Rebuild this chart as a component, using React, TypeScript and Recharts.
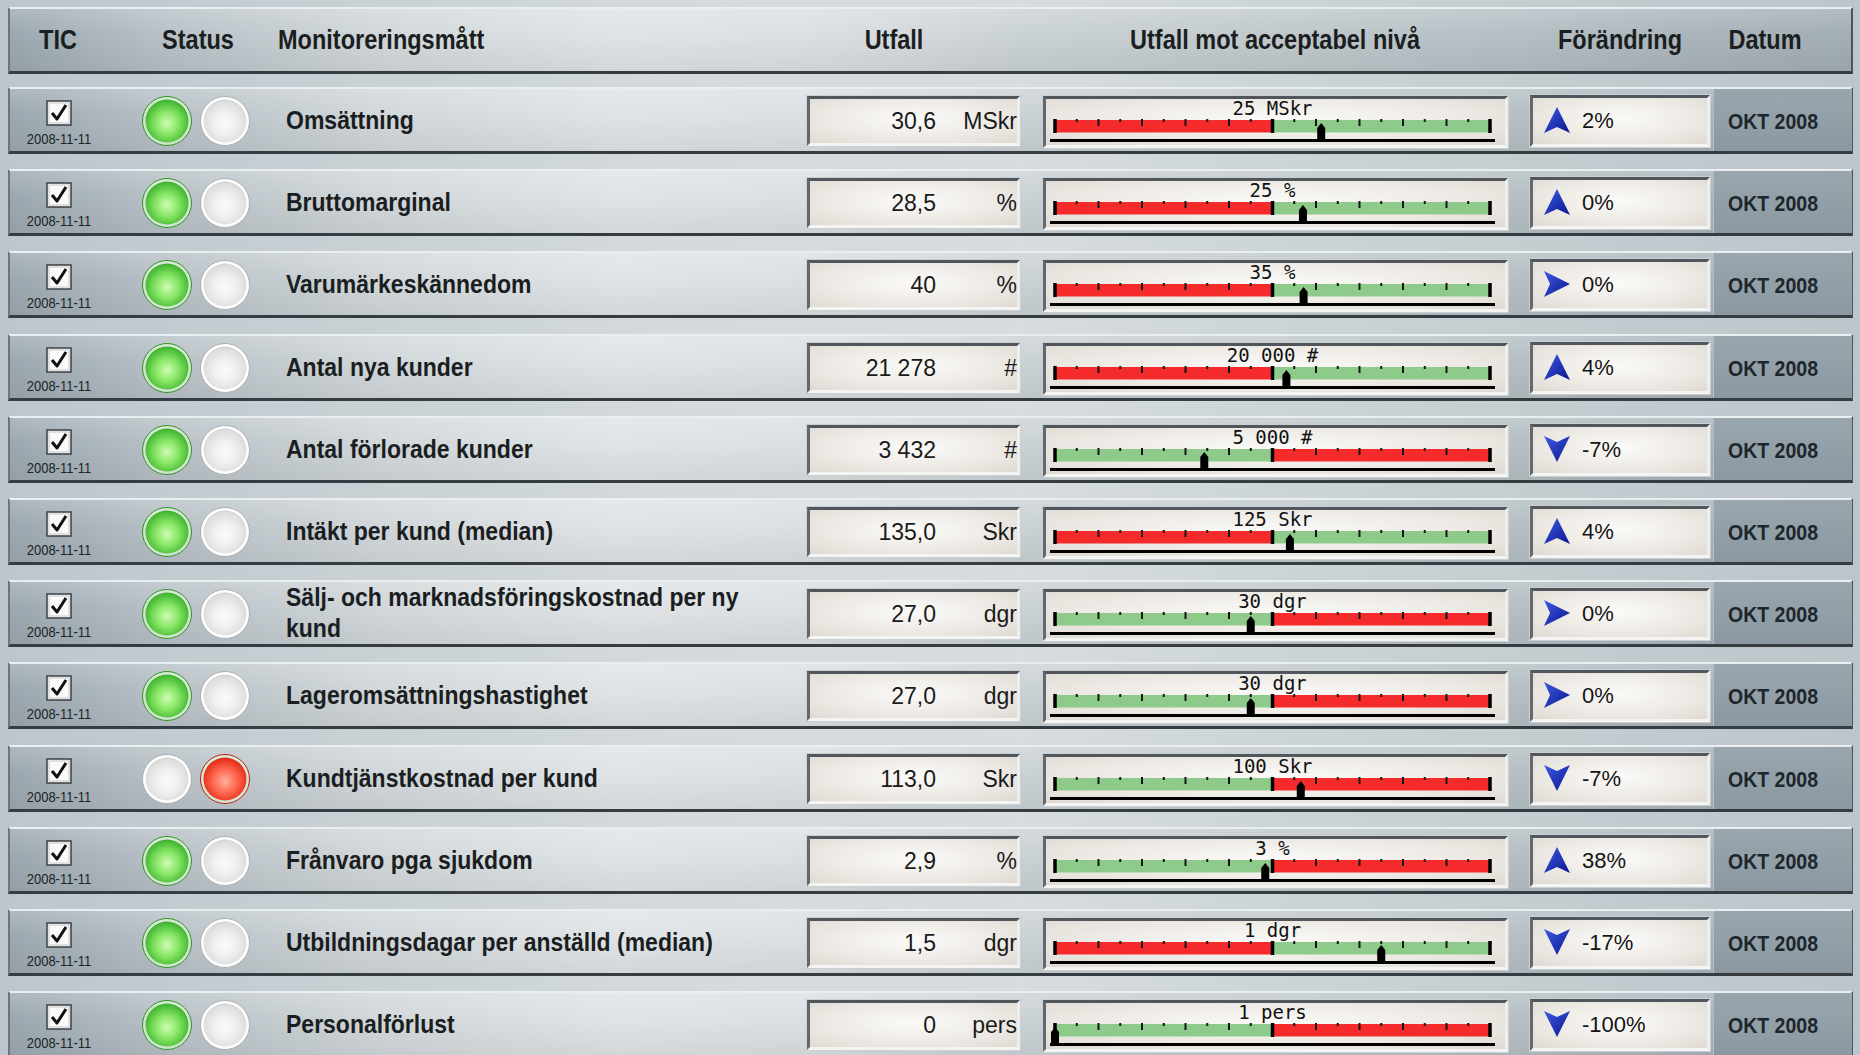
import React from 'react';
import { BarChart, Bar, XAxis, YAxis, ReferenceLine, ReferenceDot } from 'recharts';

const headers = ['TIC', 'Status', 'Monitoreringsmått', 'Utfall', 'Utfall mot acceptabel nivå', 'Förändring', 'Datum'];

const metrics = [
  'Omsättning',
  'Bruttomarginal',
  'Varumärkeskännedom',
  'Antal nya kunder',
  'Antal förlorade kunder',
  'Intäkt per kund (median)',
  'Sälj- och marknadsföringskostnad per ny kund',
  'Lageromsättningshastighet',
  'Kundtjänstkostnad per kund',
  'Frånvaro pga sjukdom',
  'Utbildningsdagar per anställd (median)',
  'Personalförlust',
];
const outcomes = [30.6, 28.5, 40, 21278, 3432, 135, 27, 27, 113, 2.9, 1.5, 0];
const outcomeText = ['30,6', '28,5', '40', '21 278', '3 432', '135,0', '27,0', '27,0', '113,0', '2,9', '1,5', '0'];
const units = ['MSkr', '%', '%', '#', '#', 'Skr', 'dgr', 'dgr', 'Skr', '%', 'dgr', 'pers'];
const thresholds = [25, 25, 35, 20000, 5000, 125, 30, 30, 100, 3, 1, 1];
const thresholdLabels = ['25 MSkr', '25 %', '35 %', '20 000 #', '5 000 #', '125 Skr', '30 dgr', '30 dgr', '100 Skr', '3 %', '1 dgr', '1 pers'];
// true: below the threshold is red, false: below is green
const higherIsBetter = [true, true, true, true, false, true, false, false, false, false, true, false];
const changes = ['2%', '0%', '0%', '4%', '-7%', '4%', '0%', '0%', '-7%', '38%', '-17%', '-100%'];
const trends = ['up', 'up', 'right', 'up', 'down', 'up', 'right', 'right', 'down', 'up', 'down', 'down'];
const statusOk = [true, true, true, true, true, true, true, true, false, true, true, true];
const ticDates = Array(12).fill('2008-11-11');
const periods = Array(12).fill('OKT 2008');

const ROW_Y0 = 87;
const ROW_PITCH = 82.2;
const BAR_TOP = 23;
const BAR_H = 14;
const TICK_COUNT = 20;

const inset: React.CSSProperties = {
  position: 'absolute',
  boxSizing: 'border-box',
  borderTop: '3px solid #50565b',
  borderLeft: '3px solid #62686d',
  borderBottom: '3px solid #f4f4f2',
  borderRight: '3px solid #eeeeec',
  background: 'radial-gradient(ellipse at 50% 45%, #fbfaf8 0%, #eeebe6 55%, #dfdad3 100%)',
  boxShadow: '0 0 0 1px #c9cfd2',
};

function Light({ kind, id }: { kind: 'green' | 'off' | 'red'; id: string }) {
  const c = kind === 'green'
    ? ['#d0fbb4', '#86e664', '#46b934', '#2f9524']
    : kind === 'red'
    ? ['#ffb09a', '#ff6a52', '#e8321e', '#b82010']
    : ['#fbfbfb', '#efefef', '#dcdcdc', '#b9b9b9'];
  return (
    <svg width={52} height={52} style={{ display: 'block' }}>
      <defs>
        <radialGradient id={id} cx="50%" cy="55%" r="60%">
          <stop offset="0%" stopColor={c[0]} />
          <stop offset="45%" stopColor={c[1]} />
          <stop offset="85%" stopColor={c[2]} />
          <stop offset="100%" stopColor={c[3]} />
        </radialGradient>
      </defs>
      <circle cx={26} cy={26} r={24.5} fill={kind === 'off' ? '#ffffff' : 'rgba(230,255,220,0.6)'} stroke={kind === 'off' ? '#a9afb3' : c[3]} strokeWidth={1} />
      <circle cx={26} cy={26} r={21.5} fill={`url(#${id})`} />
    </svg>
  );
}

function Arrow({ dir, id }: { dir: string; id: string }) {
  const pts = dir === 'up' ? '14,1 27,27 14,21 1,27' : dir === 'down' ? '1,1 14,7 27,1 14,27' : '1,1 27,14 1,27 7,14';
  return (
    <svg width={28} height={28} style={{ display: 'block' }}>
      <defs>
        <linearGradient id={id} x1="0" y1="0" x2="1" y2="1">
          <stop offset="0%" stopColor="#3d5be6" />
          <stop offset="100%" stopColor="#0a168c" />
        </linearGradient>
      </defs>
      <polygon points={pts} fill={`url(#${id})`} />
    </svg>
  );
}

function CheckBox() {
  return (
    <svg width={26} height={26} style={{ display: 'block' }}>
      <rect x={1} y={1} width={24} height={24} fill="#fafafa" stroke="#3a3f44" strokeWidth={1.5} />
      <rect x={3} y={3} width={20} height={20} fill="none" stroke="#c8c8c8" strokeWidth={1} />
      <path d="M6 13 L11 19 L20 5" fill="none" stroke="#111" strokeWidth={3} strokeLinejoin="round" />
    </svg>
  );
}

const Marker = (props: any) => {
  const { cx, cy } = props;
  const pts = `${cx},${cy - 3} ${cx + 4},${cy + 2} ${cx + 4},${cy + 16} ${cx - 4},${cy + 16} ${cx - 4},${cy + 2}`;
  return <polygon points={pts} fill="#000" />;
};

const tickShape = (k: number) => (p: any) => {
  const x = p.x1;
  const y = Math.min(p.y1, p.y2);
  if (x == null || isNaN(x)) return <g />;
  if (k % 10 === 0) return <rect x={x - 1.75} y={y} width={3.5} height={BAR_H} fill="#000" />;
  const len = k % 2 === 0 ? 7 : 3;
  return <line x1={x} x2={x} y1={y} y2={y + len} stroke="#151515" strokeWidth={2} />;
};

function Gauge({ i }: { i: number }) {
  const thr = thresholds[i];
  const ticks = Array.from({ length: TICK_COUNT + 1 }, (_, k) => k);
  const data = [{ name: metrics[i], low: thr, high: thr }];
  const good = '#8ecb8b';
  const bad = '#f52a2a';
  return (
    <BarChart
      width={465}
      height={50}
      data={data}
      layout="vertical"
      margin={{ top: BAR_TOP, right: 18, bottom: 50 - BAR_TOP - BAR_H, left: 12 }}
      barCategoryGap={0}
    >
      <XAxis type="number" domain={[0, 2 * thr]} hide />
      <YAxis type="category" dataKey="name" hide width={0} />
      <Bar dataKey="low" stackId="g" fill={higherIsBetter[i] ? bad : good} barSize={BAR_H} isAnimationActive={false} />
      <Bar dataKey="high" stackId="g" fill={higherIsBetter[i] ? good : bad} barSize={BAR_H} isAnimationActive={false} />
      {ticks.map((k) => (
        <ReferenceLine key={k} x={(k * thr) / 10} ifOverflow="visible" shape={tickShape(k)} />
      ))}
      <ReferenceLine
        x={thr}
        stroke="none"
        label={{ value: thresholdLabels[i], position: 'top', offset: 4, fill: '#111', fontSize: 19, fontFamily: 'DejaVu Sans Mono' }}
      />
      <ReferenceDot x={outcomes[i]} y={metrics[i]} r={4} shape={Marker} ifOverflow="visible" />
    </BarChart>
  );
}

const rowBg = 'linear-gradient(180deg, rgba(255,255,255,0.18) 0%, rgba(255,255,255,0) 40%, rgba(0,0,0,0.06) 100%), ' +
  'linear-gradient(90deg, #9ca8b0 0%, #b7c0c6 8%, #d1d7da 20%, #e0e4e6 33%, #dce0e3 43%, #cbd2d5 55%, #c0c8cc 70%, #b5bfc4 82%, #aab4bb 92%, #a3aeb5 100%)';

const nameFont: React.CSSProperties = {
  fontFamily: '"Liberation Sans", Arial, sans-serif',
  fontWeight: 700,
  color: '#1b1e21',
};

function Row({ i }: { i: number }) {
  const top = Math.round(ROW_Y0 + i * ROW_PITCH);
  const c = top + 34;
  return (
    <>
      <div style={{
        position: 'absolute', left: 8, top, width: 1845, height: 67, boxSizing: 'border-box',
        borderTop: '2px solid #e9eef0', borderLeft: '2px solid #6b757c', borderRight: '2px solid #4b555b', borderBottom: '3px solid #353d43',
        background: rowBg,
      }} />
      <div style={{
        position: 'absolute', left: 1713, top: top + 2, width: 138, height: 62,
        background: 'linear-gradient(180deg, #9aa6ae 0%, #8b98a1 100%)', borderLeft: '1px solid #b3bdc3',
      }} />
      <div style={{ position: 'absolute', left: 46, top: top + 13 }}><CheckBox /></div>
      <div style={{ position: 'absolute', left: 19, width: 80, top: top + 45, textAlign: 'center', fontFamily: '"Liberation Sans", Arial', fontSize: 13, color: '#202428', whiteSpace: 'nowrap' }}>
        <span style={{ display: 'inline-block', transform: 'scaleY(1.1)' }}>{ticDates[i]}</span>
      </div>
      <div style={{ position: 'absolute', left: 141, top: c - 26 }}><Light kind={statusOk[i] ? 'green' : 'off'} id={`l1-${i}`} /></div>
      <div style={{ position: 'absolute', left: 199, top: c - 26 }}><Light kind={statusOk[i] ? 'off' : 'red'} id={`l2-${i}`} /></div>
      <div style={{ ...nameFont, position: 'absolute', left: 286, top: top + 2, height: 62, width: 500, display: 'flex', alignItems: 'center', fontSize: 23, lineHeight: '27px' }}>
        <span style={{ display: 'inline-block', transform: 'scaleY(1.12)' }}>{metrics[i]}</span>
      </div>
      <div style={{ ...inset, left: 807, top: top + 9, width: 213, height: 50 }} />
      <div style={{ position: 'absolute', left: 807, width: 129, top: c - 14, textAlign: 'right', fontFamily: '"Liberation Sans", Arial', fontSize: 23, color: '#1a1a1a', lineHeight: '28px' }}>{outcomeText[i]}</div>
      <div style={{ position: 'absolute', left: 940, width: 77, top: c - 14, textAlign: 'right', fontFamily: '"Liberation Sans", Arial', fontSize: 23, color: '#1a1a1a', lineHeight: '28px' }}>{units[i]}</div>
      <div style={{ ...inset, left: 1043, top: top + 9, width: 465, height: 52 }} />
      <div style={{ position: 'absolute', left: 1050, top: top + 52, width: 445, height: 3, background: '#000' }} />
      <div style={{ position: 'absolute', left: 1043, top: top + 9 }}><Gauge i={i} /></div>
      <div style={{ ...inset, left: 1530, top: top + 8, width: 180, height: 52 }} />
      <div style={{ position: 'absolute', left: 1543, top: c - 15 }}><Arrow dir={trends[i]} id={`a-${i}`} /></div>
      <div style={{ position: 'absolute', left: 1582, top: c - 14, fontFamily: '"Liberation Sans", Arial', fontSize: 22, color: '#141414', lineHeight: '28px' }}>{changes[i]}</div>
      <div style={{ ...nameFont, position: 'absolute', left: 1713, width: 120, top: c - 13, textAlign: 'center', fontSize: 19.5, lineHeight: '26px', color: '#1d262d' }}>
        <span style={{ display: 'inline-block', transform: 'scaleY(1.1)' }}>{periods[i]}</span>
      </div>
    </>
  );
}

const headerPos: { left: number; align: 'center' | 'left' }[] = [
  { left: 58, align: 'center' },
  { left: 198, align: 'center' },
  { left: 278, align: 'left' },
  { left: 894, align: 'center' },
  { left: 1275, align: 'center' },
  { left: 1620, align: 'center' },
  { left: 1765, align: 'center' },
];

export default function App() {
  return (
    <div style={{
      position: 'absolute', left: 0, top: 0, width: 1860, height: 1055, overflow: 'hidden',
      background: 'linear-gradient(90deg, #bcc6cc 0%, #d3d9dc 35%, #d6dcdf 55%, #c6ced2 80%, #bcc5ca 100%)',
    }}>
      <div style={{
        position: 'absolute', left: 8, top: 7, width: 1845, height: 67, boxSizing: 'border-box',
        borderTop: '2px solid #e9eef0', borderLeft: '2px solid #6b757c', borderRight: '2px solid #4b555b', borderBottom: '3px solid #353d43',
        background: rowBg,
      }} />
      {headers.map((h, k) => (
        <div key={h} style={{
          ...nameFont, position: 'absolute', top: 26, fontSize: 23.5, lineHeight: '28px', whiteSpace: 'nowrap',
          left: headerPos[k].align === 'center' ? headerPos[k].left - 200 : headerPos[k].left,
          width: headerPos[k].align === 'center' ? 400 : undefined,
          textAlign: headerPos[k].align,
        }}>
          <span style={{ display: 'inline-block', transform: 'scaleY(1.15)' }}>{h}</span>
        </div>
      ))}
      {metrics.map((m, i) => <Row key={m} i={i} />)}
    </div>
  );
}
